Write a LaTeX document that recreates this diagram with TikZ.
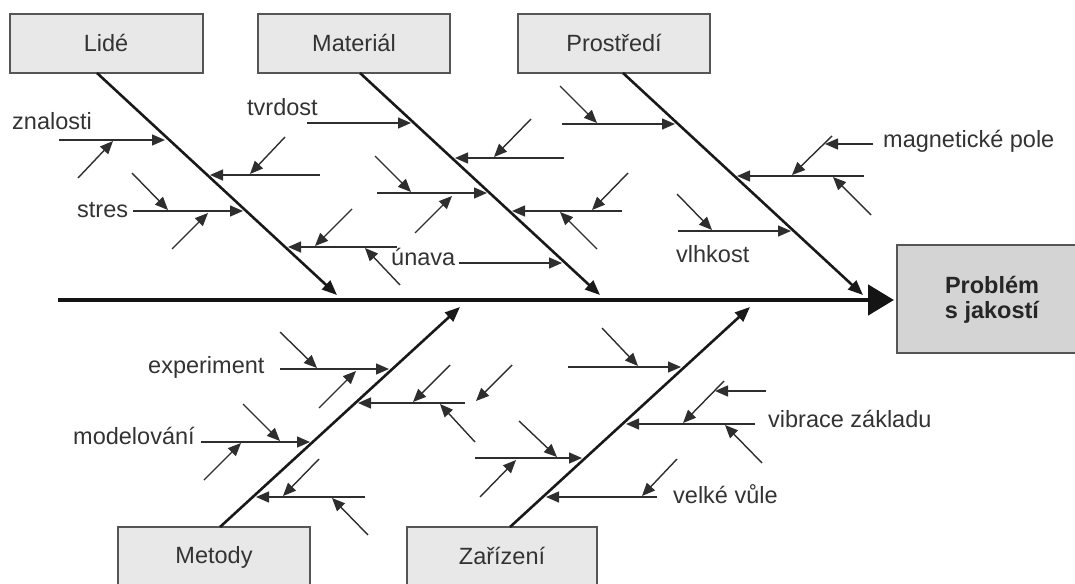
\documentclass[tikz,border=0pt]{standalone}
\usepackage{fontspec}
\setmainfont{Liberation Sans}
\usetikzlibrary{arrows.meta}
\definecolor{txt}{HTML}{333333}
\definecolor{boxline}{HTML}{555555}
\definecolor{boxfill}{HTML}{E8E8E8}
\definecolor{headfill}{HTML}{D4D4D4}
\definecolor{thin}{HTML}{2E2E2E}
\begin{document}
\begin{tikzpicture}[x=1pt,y=-1pt,
  catbox/.style={draw=boxline, fill=boxfill, line width=1.5pt, inner sep=0pt},
  headbox/.style={draw=boxline, fill=headfill, line width=1.5pt, inner sep=0pt},
  lbl/.style={anchor=base west, inner sep=0pt, text=txt, font=\fontsize{23.5}{28}\selectfont},
  boxlbl/.style={anchor=base, inner sep=0pt, text=txt, font=\fontsize{23.5}{28}\selectfont},
  headlbl/.style={anchor=base, inner sep=0pt, text=black!85, font=\fontsize{23.5}{28}\selectfont\bfseries},
  spine/.style={line width=4.8pt, draw=black!92, -{Triangle[length=26pt,width=30pt]}},
  bone/.style={line width=2.6pt, draw=black!90, -{Triangle[length=15pt,width=12pt]}},
  cause/.style={line width=1.4pt, draw=thin, -{Triangle[length=13pt,width=11pt]}},
]
\useasboundingbox (0,0) rectangle (1075,583);
\clip (0,0) rectangle (1075,583);

% category boxes
\node[catbox, minimum width=193pt, minimum height=59pt] (Lbox) at (106.5,43.5) {};
\node[catbox, minimum width=192pt, minimum height=59pt] (Mbox) at (354,43.5) {};
\node[catbox, minimum width=192pt, minimum height=59pt] (Pbox) at (614,43.5) {};
\node[catbox, minimum width=192pt, minimum height=64pt] (Tbox) at (214,559) {};
\node[catbox, minimum width=190pt, minimum height=64pt] (Zbox) at (502,559) {};
\node[headbox, minimum width=186pt, minimum height=108pt] (Head) at (990,299) {};

\node[boxlbl] (Llbl) at (106,52) {Lidé};
\node[boxlbl] (Mlbl) at (354,52) {Materiál};
\node[boxlbl] (Plbl) at (614,52) {Prostředí};
\node[boxlbl] (Tlbl) at (214,563) {Metody};
\node[boxlbl] (Zlbl) at (502,564) {Zařízení};
\node[headlbl] (H1) at (992,293) {Problém};
\node[headlbl] (H2) at (992,318) {s jakostí};

% spine
\coordinate (S0) at (58,300);
\coordinate (S1) at (894,300);
\draw[spine] (S0) -- (S1);

% bones
\coordinate (Lt) at (97,73);   \coordinate (Lb) at (337,295);
\coordinate (Mt) at (360,73);  \coordinate (Mb) at (600,295);
\coordinate (Pt) at (623,73);  \coordinate (Pb) at (863,295);
\coordinate (Tt) at (220,527); \coordinate (Tb) at (460,307);
\coordinate (Zt) at (510,527); \coordinate (Zb) at (750,307);
\draw[bone] (Lt) -- (Lb);
\draw[bone] (Mt) -- (Mb);
\draw[bone] (Pt) -- (Pb);
\draw[bone] (Tt) -- (Tb);
\draw[bone] (Zt) -- (Zb);

% ---- Lidé
\draw[cause] (59,140) -- (165,140);
\draw[cause] (78,178) -- (113,141);
\draw[cause] (320,175) -- (210,175);
\draw[cause] (285,137) -- (250,174);
\draw[cause] (133,211) -- (243,211);
\draw[cause] (132,173) -- (168,210);
\draw[cause] (172,249) -- (208,213);
\draw[cause] (397,247) -- (288,247);
\draw[cause] (352,209) -- (315,246);
\draw[cause] (400,285) -- (365,248);
\node[lbl] (znal) at (12,129) {znalosti};
\node[lbl] (stres) at (77,217) {stres};

% ---- Materiál
\draw[cause] (307,123) -- (411,123);
\draw[cause] (564,158) -- (455,158);
\draw[cause] (531,119) -- (494,157);
\draw[cause] (377,193) -- (487,193);
\draw[cause] (375,156) -- (411,192);
\draw[cause] (415,233) -- (452,196);
\draw[cause] (622,211) -- (512,211);
\draw[cause] (628,173) -- (592,210);
\draw[cause] (597,249) -- (560,212);
\draw[cause] (459,263) -- (562,263);
\node[lbl] (tvrd) at (247,116) {tvrdost};
\node[lbl] (unava) at (391,265) {únava};

% ---- Prostředí
\draw[cause] (562,124) -- (675,124);
\draw[cause] (560,86) -- (597,123);
\draw[cause] (864,176) -- (737,176);
\draw[cause] (832,136) -- (792,175);
\draw[cause] (871,215) -- (833,177);
\draw[cause] (873,144) -- (825,144);
\draw[cause] (678,231) -- (791,231);
\draw[cause] (677,194) -- (712,230);
\node[lbl] (magn) at (883,147) {magnetické pole};
\node[lbl] (vlhk) at (676,262) {vlhkost};

% ---- Metody
\draw[cause] (280,369) -- (389,369);
\draw[cause] (280,332) -- (317,368);
\draw[cause] (319,408) -- (356,371);
\draw[cause] (465,403) -- (358,403);
\draw[cause] (450,365) -- (413,402);
\draw[cause] (475,442) -- (440,404);
\draw[cause] (512,365) -- (476,401);
\draw[cause] (201,442) -- (310,442);
\draw[cause] (243,404) -- (280,441);
\draw[cause] (204,480) -- (241,443);
\draw[cause] (365,497) -- (256,497);
\draw[cause] (319,459) -- (283,496);
\draw[cause] (368,535) -- (332,498);
\node[lbl] (exper) at (148,373) {experiment};
\node[lbl] (model) at (73,444) {modelování};

% ---- Zařízení
\draw[cause] (568,367) -- (681,367);
\draw[cause] (602,328) -- (638,366);
\draw[cause] (755,424) -- (626,424);
\draw[cause] (724,381) -- (683,423);
\draw[cause] (762,463) -- (725,425);
\draw[cause] (766,391) -- (715,391);
\draw[cause] (475,458) -- (582,458);
\draw[cause] (519,421) -- (557,457);
\draw[cause] (480,497) -- (516,460);
\draw[cause] (657,497) -- (546,497);
\draw[cause] (677,459) -- (642,496);
\node[lbl] (vibr) at (768,427) {vibrace základu};
\node[lbl] (vule) at (673,503) {velké vůle};
\end{tikzpicture}
\end{document}
